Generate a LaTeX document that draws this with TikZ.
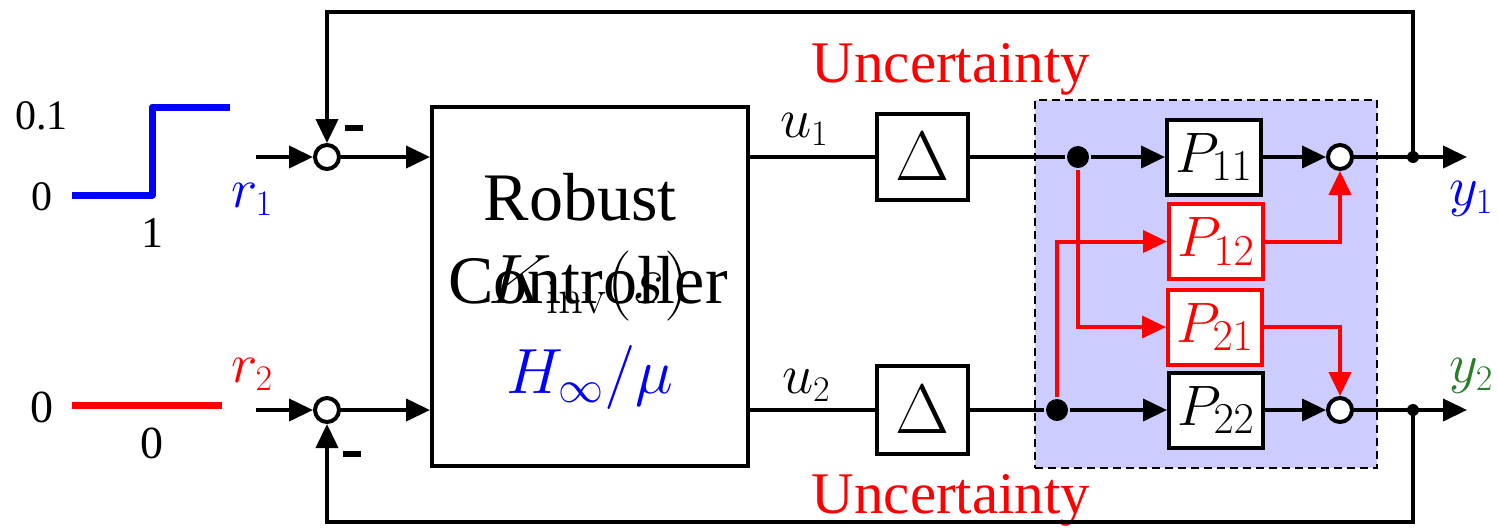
\RequirePackage{fix-cm}
\documentclass[tikz,border=0pt]{standalone}
\usepackage[no-math]{fontspec}
\setmainfont{Liberation Serif}
\usetikzlibrary{arrows.meta}
\definecolor{lav}{RGB}{204,204,255}
\definecolor{ygreen}{RGB}{40,125,40}
\DeclareMathSizes{56}{56}{36}{28}
\DeclareMathSizes{57}{57}{44}{32}
\DeclareMathSizes{64}{64}{45}{32}
\DeclareMathSizes{70}{70}{49}{35}
\newcommand\myfs[1]{\fontsize{#1}{#1}\selectfont}
\begin{document}
\begin{tikzpicture}[x=1pt,y=-1pt,line width=4pt,
  arr/.style={-{Triangle[length=24pt,width=22pt]}},
  sumc/.style={circle,draw,fill=white,minimum size=24pt,inner sep=0pt,line width=4pt},
  dotn/.style={circle,fill,minimum size=22pt,inner sep=0pt},
  sdot/.style={circle,fill,minimum size=12pt,inner sep=0pt},
  blk/.style={draw,fill=white,inner sep=0pt,line width=4pt},
  pbox/.style={blk,minimum width=94pt,minimum height=75pt},
  lbl/.style={inner sep=0pt,anchor=base},
  minus/.style={fill,minimum width=18pt,minimum height=6pt,inner sep=0pt}]
\useasboundingbox (0,0) rectangle (1498,531);

% uncertainty region
\node[draw,fill=lav,line width=2pt,dash pattern=on 8pt off 5pt,minimum width=342pt,minimum height=368pt,inner sep=0pt] (region) at (1206,284) {};

% step signals
\draw[blue,line width=7pt,line join=round] (72,195) -- (152,195) -- (152,107) -- (230,107);
\draw[red,line width=7pt] (72,405) -- (222,405);
\node[lbl] (v01) at (41.5,129) {\myfs{42}0.1};
\node[lbl] (v0a) at (42,210) {\myfs{42}0};
\node[lbl] (v1) at (152,247) {\myfs{44}1};
\node[lbl] (v0b) at (42,422) {\myfs{46}0};
\node[lbl] (v0c) at (152,458) {\myfs{46}0};
\node[lbl,anchor=base west,blue] (r1) at (229,207) {\myfs{56}$r_1$};
\node[lbl,anchor=base west,red] (r2) at (229,382) {\myfs{56}$r_2$};

% summing junctions
\coordinate (in1) at (256,157);
\coordinate (in2) at (256,410);
\node[sumc] (sum1) at (327,157) {};
\node[sumc] (sum2) at (327,410) {};
\node[minus] (m1) at (354,128) {};
\node[minus] (m2) at (352,454) {};

% controller
\node[blk,minimum width=316pt,minimum height=359pt] (ctrl) at (590,286.5) {};
\node[lbl] (t1) at (580,220) {\myfs{68}Robust};
\node[lbl] (t2) at (588,303) {\myfs{68}Controller};
\node[lbl] (t3) at (589,303) {\myfs{70}$K_{\mathrm{inv}}(s)$};
\node[lbl,blue] (t4) at (590,393) {\myfs{64}$H_\infty/\mu$};

% delta blocks
\node[blk,minimum width=91pt,minimum height=86pt] (d1) at (922.5,157) {\myfs{70}$\Delta$};
\node[blk,minimum width=91pt,minimum height=88pt] (d2) at (922.5,410) {\myfs{70}$\Delta$};
\node[lbl,anchor=base west] (u1) at (778,137) {\myfs{56}$u_1$};
\node[lbl,anchor=base west] (u2) at (780,393) {\myfs{56}$u_2$};

% plant blocks
\node[pbox] (p11) at (1214,157) {\myfs{57}$P_{11}$};
\node[pbox,draw=red,text=red] (p12) at (1216,241.5) {\myfs{57}$P_{12}$};
\node[pbox,draw=red,text=red] (p21) at (1215,327) {\myfs{57}$P_{21}$};
\node[pbox] (p22) at (1216,410) {\myfs{57}$P_{22}$};
\node[sumc] (sum3) at (1340,157) {};
\node[sumc] (sum4) at (1340,410) {};

% labels
\node[lbl,red] (unc1) at (951,82) {\myfs{59}Uncertainty};
\node[lbl,red] (unc2) at (951,513) {\myfs{59}Uncertainty};
\node[lbl,anchor=base west,blue] (y1) at (1447,205) {\myfs{56}$y_1$};
\node[lbl,anchor=base west,ygreen] (y2) at (1447,382) {\myfs{56}$y_2$};

% red cross couplings
\node[dotn] (dot1) at (1078,157) {};
\node[dotn] (dot2) at (1057,410) {};
\draw[red,arr] (dot1.south) |- (p21);
\draw[red,arr] (dot2.north) |- (p12);
\draw[red,arr] (p12) -| (sum3);
\draw[red,arr] (p21) -| (sum4);

% main signal paths
\draw[arr] (in1) -- (sum1);
\draw[arr] (in2) -- (sum2);
\draw[arr] (sum1) -- (sum1 -| ctrl.west);
\draw[arr] (sum2) -- (sum2 -| ctrl.west);
\draw (ctrl.east |- d1) -- (d1);
\draw (ctrl.east |- d2) -- (d2);
\draw (d1) -- (dot1);
\draw (d2) -- (dot2);
\draw[arr] (dot1) -- (p11);
\draw[arr] (dot2) -- (p22);
\draw[arr] (p11) -- (sum3);
\draw[arr] (p22) -- (sum4);
\coordinate (o1) at (1467,157);
\coordinate (o2) at (1467,410);
\draw[arr] (sum3) -- (o1);
\draw[arr] (sum4) -- (o2);

% feedback
\node[sdot] (b1) at (1413,157) {};
\node[sdot] (b2) at (1413,410) {};
\coordinate (tc) at (1413,12);
\coordinate (bc) at (1413,522);
\draw[arr] (b1.center) -- (tc) -| (sum1);
\draw[arr] (b2.center) -- (bc) -| (sum2);
\end{tikzpicture}
\end{document}
